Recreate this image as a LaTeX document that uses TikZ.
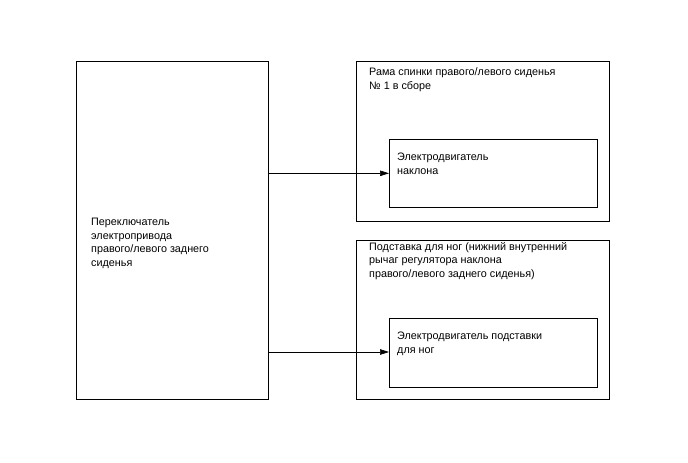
\documentclass[tikz,border=0pt]{standalone}
\usepackage{fontspec}
\setmainfont{Liberation Sans}
\usetikzlibrary{arrows.meta}
\begin{document}
\begin{tikzpicture}[x=1pt,y=-1pt,
  box/.style={draw, line width=0.9pt},
  lbl/.style={anchor=north west, inner sep=0pt, align=left, font=\fontsize{10.8}{13.6}\selectfont},
  conn/.style={line width=0.7pt, -{Triangle[length=9pt,width=5.5pt]}}]
\useasboundingbox (0,0) rectangle (688,463);
\node[box, minimum width=192pt, minimum height=337.7pt, anchor=north west, inner sep=0pt] (sw) at (75.5,61) {};
\node[box, minimum width=253.5pt, minimum height=159.7pt, anchor=north west, inner sep=0pt] (fr) at (355.5,61) {};
\node[box, minimum width=208pt, minimum height=68pt, anchor=north west, inner sep=0pt] (m1) at (389,139) {};
\node[box, minimum width=253.5pt, minimum height=158.7pt, anchor=north west, inner sep=0pt] (fs) at (355.5,240) {};
\node[box, minimum width=208pt, minimum height=68.7pt, anchor=north west, inner sep=0pt] (m2) at (389,318) {};
\node[lbl] (t0) at (91,218) {Переключатель\\электропривода\\правого/левого заднего\\сиденья};
\node[lbl] (t1) at (369,67.5) {Рама спинки правого/левого сиденья\\№ 1 в сборе};
\node[lbl] (t2) at (397,153) {Электродвигатель\\наклона};
\node[lbl] (t3) at (369,242) {Подставка для ног (нижний внутренний\\рычаг регулятора наклона\\правого/левого заднего сиденья)};
\node[lbl] (t4) at (397,332) {Электродвигатель подставки\\для ног};
\draw[conn] (sw.east |- 0,173.3) -- (m1.west |- 0,173.3);
\draw[conn] (sw.east |- 0,352) -- (m2.west |- 0,352);
\end{tikzpicture}
\end{document}
